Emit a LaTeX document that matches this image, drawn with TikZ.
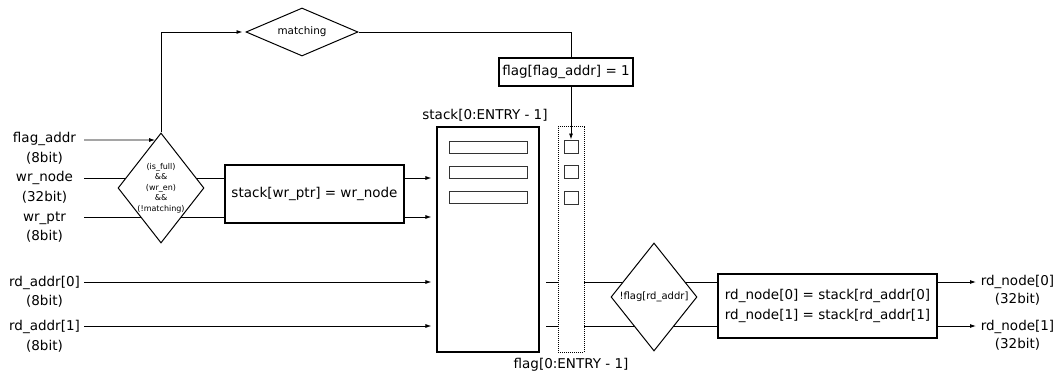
\documentclass[tikz,border=0pt]{standalone}
\usepackage{fontspec}
\setmainfont{DejaVu Sans}
\usetikzlibrary{shapes.geometric,arrows.meta,backgrounds}
\begin{document}
\begin{tikzpicture}[x=1pt,y=-1pt,
  every node/.style={font=\fontsize{13.5}{19.5}\selectfont},
  >={Latex[length=6pt,width=4pt]},
  wire/.style={line width=0.9pt},
  box/.style={draw, line width=1.05pt, fill=white, rectangle, inner sep=0pt},
  decide/.style={draw, line width=1pt, fill=white, diamond, inner sep=0pt},
  cell/.style={draw=black!80, line width=0.9pt, rectangle, inner sep=0pt},
  io/.style={align=center, inner sep=0pt},
  small/.style={font=\fontsize{8}{10.4}\selectfont, align=center, inner sep=0pt}]
\useasboundingbox (0,0) rectangle (1059,374);

% inputs
\node[io] (lfa) at (44.5,148.5) {flag\_addr\\(8bit)};
\node[io] (lwn) at (44.5,187.5) {wr\_node\\(32bit)};
\node[io] (lwp) at (44.5,227) {wr\_ptr\\(8bit)};
\node[io] (lr0) at (44.5,292) {rd\_addr[0]\\(8bit)};
\node[io] (lr1) at (44.5,336.5) {rd\_addr[1]\\(8bit)};
\coordinate (in1) at (84,140);
\coordinate (in1b) at (100,140);
\coordinate (in2) at (84,178);
\coordinate (in3) at (84,217);
\coordinate (in4) at (84,282);
\coordinate (in5) at (84,326);

% write path
\node[decide, minimum width=86pt, minimum height=110pt,
      label={[small]center:{(is\_full)\\\&\&\\(wr\_en)\\\&\&\\(!matching)}}] (wcond) at (161,188) {};
\node[box, minimum width=179pt, minimum height=58pt] (wbox) at (314.5,194) {stack[wr\_ptr] = wr\_node};
\node[decide, minimum width=112pt, minimum height=48pt,
      label={[small, font=\fontsize{10.4}{12}\selectfont]center:{matching}}] (match) at (302,32) {};
\node[box, minimum width=134pt, minimum height=28pt] (fbox) at (566,72) {flag[flag\_addr] = 1};

% storage
\node[box, minimum width=102pt, minimum height=225pt] (stack) at (488,239.5) {};
\node[inner sep=0pt] (stacklbl) at (485,115) {stack[0:ENTRY - 1]};
\node[cell, minimum width=78pt, minimum height=12pt] (e1) at (488,147) {};
\node[cell, minimum width=78pt, minimum height=12pt] (e2) at (488,172) {};
\node[cell, minimum width=78pt, minimum height=12pt] (e3) at (488,197.5) {};
\node[draw, densely dotted, line width=1pt, fill=white, rectangle, inner sep=0pt,
      minimum width=26pt, minimum height=225pt] (fcol) at (571,239.5) {};
\node[inner sep=0pt] (flaglbl) at (571,365) {flag[0:ENTRY - 1]};
\node[cell, minimum width=14pt, minimum height=13pt] (q1) at (571,146.5) {};
\node[cell, minimum width=14pt, minimum height=13pt] (q2) at (571,172) {};
\node[cell, minimum width=14pt, minimum height=13pt] (q3) at (571,197.5) {};

% read path
\coordinate (r0) at (546,282);
\coordinate (r1) at (546,326);
\node[decide, minimum width=86pt, minimum height=108pt,
      label={[small, font=\fontsize{10}{12}\selectfont]center:{!flag[rd\_addr]}}] (rcond) at (654,297) {};
\node[box, minimum width=219pt, minimum height=64pt, align=left] (rbox) at (827.5,306)
  {rd\_node[0] = stack[rd\_addr[0]\\rd\_node[1] = stack[rd\_addr[1]};
\coordinate (o0) at (976,282);
\coordinate (o1) at (976,326);
\node[io, font=\fontsize{13.5}{18.5}\selectfont] (lo0) at (1017.5,290.5) {rd\_node[0]\\(32bit)};
\node[io, font=\fontsize{13.5}{18.5}\selectfont] (lo1) at (1017.5,335.5) {rd\_node[1]\\(32bit)};

% wires running underneath the filled shapes
\begin{scope}[on background layer]
  \draw[wire] (in2) -- (in2 -| wbox.west);
  \draw[wire] (in3) -- (in3 -| wbox.west);
  \draw[wire] (r0) -- (r0 -| rbox.west);
  \draw[wire] (r1) -- (r1 -| rbox.west);
\end{scope}

% connectors
\draw[wire, ->] (in1) -- (intersection of in1--in1b and wcond.north--wcond.west);
\draw[wire, ->, shorten >=3pt] (wcond.north) |- (match.west);
\draw[wire] (match.east) -| (fbox.north -| q1);
\draw[wire, ->] (fbox.south -| q1) -- (q1.north);
\draw[wire, ->, shorten >=5pt] (in2 -| wbox.east) -- (in2 -| stack.west);
\draw[wire, ->, shorten >=5pt] (in3 -| wbox.east) -- (in3 -| stack.west);
\draw[wire, ->, shorten >=5pt] (in4) -- (in4 -| stack.west);
\draw[wire, ->, shorten >=5pt] (in5) -- (in5 -| stack.west);
\draw[wire, ->] (r0 -| rbox.east) -- (o0);
\draw[wire, ->] (r1 -| rbox.east) -- (o1);
\end{tikzpicture}
\end{document}
